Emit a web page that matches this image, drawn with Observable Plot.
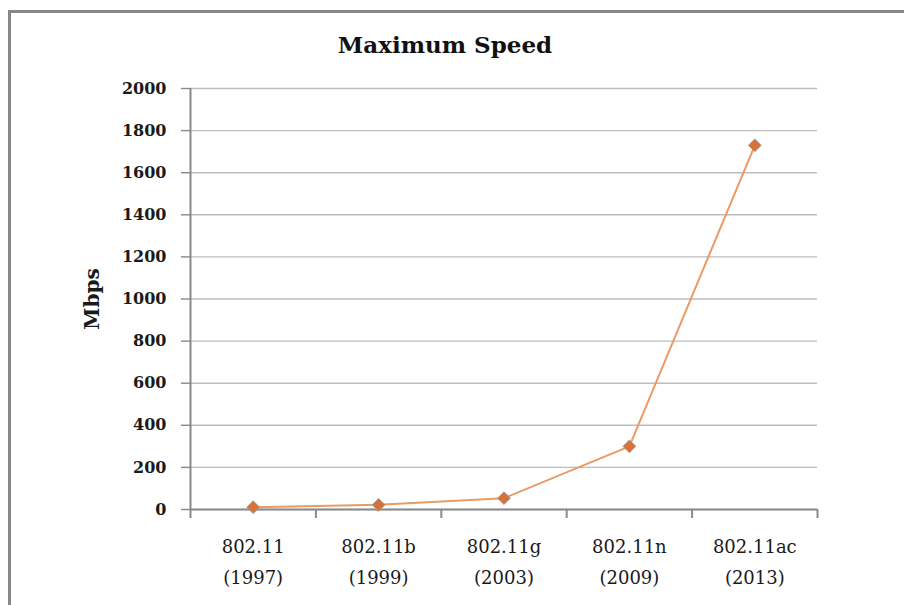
<!DOCTYPE html>
<html>
<head>
<meta charset="utf-8">
<script src="https://cdn.jsdelivr.net/npm/d3@7"></script>
<script src="https://cdn.jsdelivr.net/npm/@observablehq/plot@0.6"></script>
<style>
  html, body { margin: 0; padding: 0; background: #fff; overflow: hidden; }
  #wrap { position: relative; width: 904px; height: 605px; overflow: hidden; }
  #frameTop { position: absolute; left: 8px; top: 10px; width: 896px; height: 3px; background: #878787; }
  #frameLeft { position: absolute; left: 8px; top: 10px; width: 3px; height: 595px; background: #878787; }
  #title { position: absolute; left: 0; width: 890px; top: 31px; text-align: center;
           font-family: "DejaVu Serif", serif; font-weight: bold; font-size: 23px; color: #111; }
  svg { position: absolute; left: 0; top: 0; }
</style>
</head>
<body>
<div id="wrap">
  <div id="frameTop"></div>
  <div id="frameLeft"></div>
  <div id="title">Maximum Speed</div>
</div>
<script>
const standards = ["802.11", "802.11b", "802.11g", "802.11n", "802.11ac"];
const years = ["1997", "1999", "2003", "2009", "2013"];
const speeds = [11, 22, 54, 300, 1730];
const yTicks = [0, 200, 400, 600, 800, 1000, 1200, 1400, 1600, 1800, 2000];

const data = standards.map((s, i) => ({i, standard: s, year: years[i], speed: speeds[i]}));
const idx = standards.map((_, i) => i);
const bounds = [-0.5, ...idx.map(i => i + 0.5)];

const chart = Plot.plot({
  width: 904,
  height: 605,
  marginLeft: 190,
  marginRight: 87,
  marginTop: 88,
  marginBottom: 96,
  style: {fontFamily: "'DejaVu Serif', serif", background: "transparent", color: "#1a1a1a"},
  x: {type: "linear", domain: [-0.5, 4.5], axis: null},
  y: {domain: [0, 2000], axis: null},
  marks: [
    Plot.gridY(yTicks, {stroke: "#bdbdbd", strokeOpacity: 1, strokeWidth: 1.4}),
    Plot.axisY(yTicks, {anchor: "left", tickSize: 9, tickPadding: 15, stroke: "#888", strokeWidth: 1.4,
      fontSize: 16, fontWeight: "bold", tickFormat: d => String(d),
      label: "Mbps", labelAnchor: "center", labelArrow: "none", labelOffset: 106}),
    Plot.ruleX([-0.5], {stroke: "#8a8a8a", strokeWidth: 2}),
    Plot.ruleY([0], {stroke: "#8a8a8a", strokeWidth: 2}),
    Plot.axisX(bounds, {anchor: "bottom", tickSize: 9, tickFormat: () => "", label: null,
      stroke: "#8a8a8a", strokeWidth: 2}),
    Plot.axisX(idx, {anchor: "bottom", tickSize: 0, tickPadding: 22, fontSize: 18, lineHeight: 1.72,
      tickFormat: i => standards[i] + "\n(" + years[i] + ")", label: null}),
    Plot.line(data, {x: "i", y: "speed", stroke: "#ea9a62", strokeWidth: 2}),
    Plot.dot(data, {x: "i", y: "speed", symbol: "diamond2", r: 5.8, fill: "#d5733a", stroke: "#9a9a9a", strokeWidth: 0.8})
  ]
});
document.getElementById("wrap").appendChild(chart);
chart.querySelectorAll("text").forEach(t => {
  if (t.textContent === "Mbps") { t.setAttribute("font-weight", "bold"); t.setAttribute("font-size", "20"); }
});
</script>
</body>
</html>
